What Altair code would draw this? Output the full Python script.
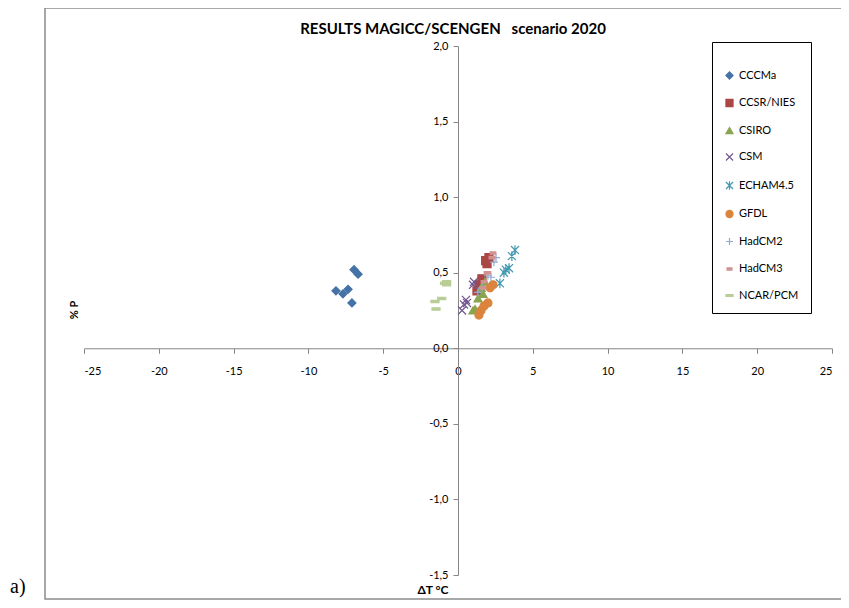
import altair as alt
import pandas as pd

series = ["CCCMa", "CCSR/NIES", "CSIRO", "CSM", "ECHAM4.5", "GFDL", "HadCM2", "HadCM3", "NCAR/PCM"]
colors = ["#4572A7", "#AA4643", "#89A54E", "#71588F", "#4198AF", "#DB843D", "#93A9CF", "#D19392", "#B9CD96"]
shapes = [
    "diamond",
    "square",
    "triangle-up",
    "M-1,-1L1,1M-1,1L1,-1",
    "M-1,-1L1,1M-1,1L1,-1M0,-1.2L0,1.2",
    "circle",
    "M-1,0H1M0,-1V1",
    "M-0.7,-0.3H0.7V0.3H-0.7Z",
    "M-1,-0.28H1V0.28H-1Z",
]

cccma_t = [-6.95, -6.68, -8.16, -7.69, -7.35, -7.09]
cccma_p = [0.52, 0.49, 0.38, 0.36, 0.39, 0.30]
ccsr_t = [2.07, 1.94, 1.60, 1.40, 1.27, 1.85]
ccsr_p = [0.60, 0.56, 0.46, 0.42, 0.38, 0.58]
csiro_t = [1.80, 1.67, 1.34, 1.14, 1.00, 1.55]
csiro_p = [0.44, 0.36, 0.33, 0.26, 0.25, 0.40]
csm_t = [1.07, 1.00, 0.53, 0.40, 0.27, 0.60]
csm_p = [0.44, 0.42, 0.32, 0.29, 0.25, 0.30]
echam_t = [3.81, 3.60, 3.41, 3.20, 3.07, 2.80]
echam_p = [0.65, 0.61, 0.53, 0.52, 0.50, 0.43]
gfdl_t = [2.34, 2.14, 2.00, 1.74, 1.54, 1.40]
gfdl_p = [0.42, 0.40, 0.30, 0.28, 0.25, 0.22]
had2_t = [2.54, 2.40, 2.20, 2.00, 1.60, 1.34]
had2_p = [0.60, 0.57, 0.47, 0.48, 0.40, 0.37]
had3_t = [2.34, 2.27, 2.00, 1.94, 1.74, 1.67]
had3_p = [0.63, 0.60, 0.50, 0.50, 0.44, 0.40]
ncar_t = [-0.76, -0.76, -1.09, -1.54, -1.47, -0.90]
ncar_p = [0.44, 0.42, 0.33, 0.31, 0.26, 0.43]

x_ticks = [-25, -20, -15, -10, -5, 0, 5, 10, 15, 20, 25]
y_ticks = [-1.5, -1.0, -0.5, 0.0, 0.5, 1.0, 1.5, 2.0]

all_t = [cccma_t, ccsr_t, csiro_t, csm_t, echam_t, gfdl_t, had2_t, had3_t, ncar_t]
all_p = [cccma_p, ccsr_p, csiro_p, csm_p, echam_p, gfdl_p, had2_p, had3_p, ncar_p]

rows = []
for name, ts, ps in zip(series, all_t, all_p):
    for t, p in zip(ts, ps):
        rows.append({"model": name, "dT": t, "P": p})
df = pd.DataFrame(rows)

W, H = 748, 529
xmin, xmax = -25, 25
ymin, ymax = -1.5, 2.0
x_off = -(H * (0 - ymin) / (ymax - ymin))
y_off = -(W * (0 - xmin) / (xmax - xmin))

FONT = "Lato"
legend = alt.Legend(
    orient="none", legendX=628, legendY=-4, title="\u00a0",
    titleFontSize=10, titlePadding=6,
    strokeColor="black", fillColor="white", padding=12, rowPadding=14.5,
    labelFontSize=11, labelFont=FONT, labelColor="black",
    symbolSize=50, symbolStrokeWidth=1.2, labelOffset=4,
)

y_label = "(datum.value < 0 ? '-' : '') + replace(format(abs(datum.value), '.1f'), '.', ',')"

points = alt.Chart(df).mark_point(filled=True, opacity=1, strokeWidth=1.2, size=65).encode(
    x=alt.X("dT:Q", scale=alt.Scale(domain=[xmin, xmax], nice=False, zero=False),
            axis=alt.Axis(values=x_ticks, offset=x_off, grid=False, title=None,
                          domainColor="#868686", tickColor="#868686", tickSize=5,
                          labelFont=FONT, labelFontSize=11, labelColor="black",
                          labelPadding=12, labelExpr="'' + datum.value")),
    y=alt.Y("P:Q", scale=alt.Scale(domain=[ymin, ymax], nice=False, zero=False),
            axis=alt.Axis(values=y_ticks, offset=y_off, grid=False, title=None,
                          domainColor="#868686", tickColor="#868686", tickSize=5,
                          labelFont=FONT, labelFontSize=11, labelColor="black",
                          labelPadding=5, labelExpr=y_label)),
    fill=alt.Fill("model:N", scale=alt.Scale(domain=series, range=colors), legend=legend),
    stroke=alt.Stroke("model:N", scale=alt.Scale(domain=series, range=colors), legend=legend),
    shape=alt.Shape("model:N", scale=alt.Scale(domain=series, range=shapes), legend=legend),
)

one = pd.DataFrame({"k": [0]})

frame = alt.Chart(one).mark_rect(fill=None, stroke="#8c8c8c", strokeWidth=1.5).encode(
    x=alt.value(-39), x2=alt.value(900), y=alt.value(-38), y2=alt.value(553)
)

title = alt.Chart(one).mark_text(font=FONT, fontSize=15, fontWeight="bold", color="black",
                                 baseline="middle", align="center").encode(
    x=alt.value(369), y=alt.value(-17),
    text=alt.value("RESULTS MAGICC/SCENGEN\u00a0\u00a0 scenario 2020"),
)

ytitle = alt.Chart(one).mark_text(font=FONT, fontSize=11, fontWeight="bold", color="black",
                                  angle=270, baseline="middle", align="center").encode(
    x=alt.value(-9), y=alt.value(264), text=alt.value("% P"),
)

xtitle = alt.Chart(one).mark_text(font=FONT, fontSize=12, fontWeight="bold", color="black",
                                  baseline="middle", align="center").encode(
    x=alt.value(349), y=alt.value(544), text=alt.value("ΔT  °C"),
)

alabel = alt.Chart(one).mark_text(font="Liberation Serif", fontSize=20, color="black",
                                  baseline="alphabetic", align="left").encode(
    x=alt.value(-74), y=alt.value(547), text=alt.value("a)"),
)

chart = alt.layer(frame, points, title, ytitle, xtitle, alabel).properties(
    width=W, height=H,
    autosize=alt.AutoSizeParams(type="none"),
    padding={"left": 76, "top": 38, "right": 9, "bottom": 27},
    background="white",
).configure_view(stroke=None)

chart.save("out.html", embed_options={"renderer": "svg", "actions": False})
